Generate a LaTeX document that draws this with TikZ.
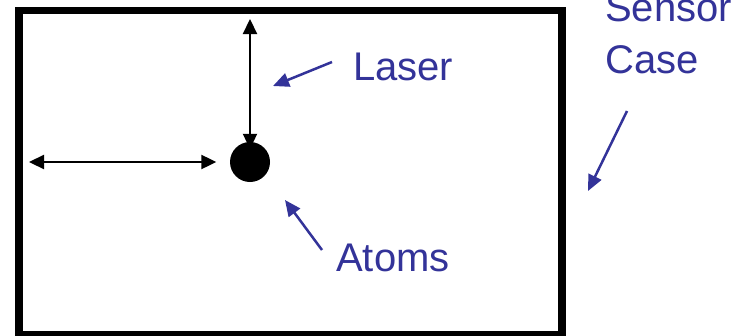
\documentclass[tikz,border=0pt]{standalone}
\usepackage{fontspec}
\setmainfont{Liberation Sans}
\usetikzlibrary{arrows.meta}
\definecolor{lblue}{RGB}{51,51,153}
\tikzset{
  lbl/.style={text=lblue, font=\fontsize{40}{48}\selectfont, inner sep=0pt, anchor=base west},
  pointer/.style={draw=lblue, line width=2.5pt, -{Triangle[length=16pt,width=14pt]}},
  beam/.style={draw=black, line width=2.2pt, {Triangle[length=15pt,width=14pt]}-{Triangle[length=15pt,width=14pt]}}
}
\begin{document}
\begin{tikzpicture}[x=1pt,y=-1pt]
\useasboundingbox (0,0) rectangle (733,335);
\fill[white] (0,0) rectangle (733,335);
\draw[line width=7.5pt] (19,10.7) rectangle (562,335);
\node[circle, fill=black, minimum size=40pt, inner sep=0pt] (atom) at (250,162) {};
\coordinate (ltop) at (250,19);
\coordinate (lleft) at (29,162);
\draw[beam] (ltop) -- ([yshift=-7pt]atom.north);
\draw[beam] (lleft) -- ([xshift=-13.5pt]atom.west);
\node[lbl] (laser) at (353,80) {Laser};
\node[lbl] (atoms) at (336,271) {Atoms};
\node[lbl] (sensor) at (605,21) {Sensor};
\node[lbl] (case) at (605,73) {Case};
\coordinate (lp) at (332,62);
\coordinate (lt) at (273,86);
\coordinate (ap) at (322,250);
\coordinate (at) at (285,200);
\coordinate (sp) at (627,111);
\coordinate (st) at (588,191);
\draw[pointer] (lp) -- (lt);
\draw[pointer] (ap) -- (at);
\draw[pointer] (sp) -- (st);
\end{tikzpicture}
\end{document}
